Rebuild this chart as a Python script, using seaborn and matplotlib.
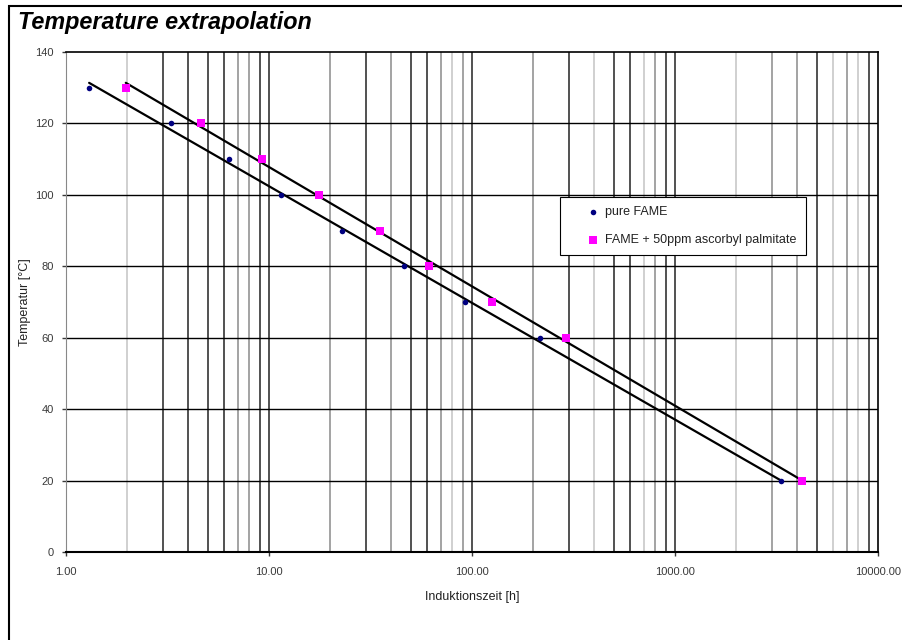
import numpy as np
import pandas as pd
import matplotlib
matplotlib.use("Agg")
import matplotlib.pyplot as plt
from matplotlib.patches import Rectangle
import seaborn as sns

sns.set_style("white")
plt.rcParams['font.family'] = ['Liberation Sans', 'DejaVu Sans']

# data
temps = [130, 120, 110, 100, 90, 80, 70, 60, 20]
time_pure = [1.30, 3.29, 6.35, 11.4, 23.0, 46.2, 92.2, 217, 3314]
time_ap = [1.97, 4.62, 9.23, 17.6, 35.2, 61.3, 126, 289, 4220]
label_pure = "pure FAME"
label_ap = "FAME + 50ppm ascorbyl palmitate"

df_pure = pd.DataFrame({"t": time_pure, "T": temps})
df_ap = pd.DataFrame({"t": time_ap, "T": temps})

fig = plt.figure(figsize=(9.02, 6.4), dpi=100)
ax = fig.add_axes([66 / 902, 88 / 640, 812 / 902, 500 / 640])
ax.set_xscale("log")
ax.set_xlim(1, 10000)
ax.set_ylim(0, 140)

# grid: the minor verticals come in different shades in the original
L, G, D = "#c4c4c4", "#8a8a8a", "#222222"
minor_shades = [
    [L, D, D, D, D, G, G, D],
    [G, D, G, D, D, G, L, G],
    [G, D, L, D, D, L, G, D],
    [L, G, G, D, L, G, L, D],
]
for i, shades in enumerate(minor_shades):
    base = 10 ** i
    for k, c in zip(range(2, 10), shades):
        ax.axvline(k * base, color=c, lw=1.1, zorder=0)
    if i > 0:
        ax.axvline(base, color=D, lw=1.1, zorder=0)
for yv in range(20, 140, 20):
    ax.axhline(yv, color="black", lw=1.0, zorder=0)

# trendlines (log fit, like excel)
sns.regplot(data=df_pure, x="t", y="T", logx=True, ci=None, scatter=False,
            color="black", line_kws={"lw": 1.6, "zorder": 2}, ax=ax)
sns.regplot(data=df_ap, x="t", y="T", logx=True, ci=None, scatter=False,
            color="black", line_kws={"lw": 1.6, "zorder": 2}, ax=ax)

sns.scatterplot(data=df_pure, x="t", y="T", marker="o", s=16, color="#000080",
                edgecolor="#000080", linewidth=0, label=label_pure, zorder=3, ax=ax)
sns.scatterplot(data=df_ap, x="t", y="T", marker="s", s=30, color="#ff00ff",
                edgecolor="#ff00ff", linewidth=0, label=label_ap, zorder=3, ax=ax)

ax.set_xticks([1, 10, 100, 1000, 10000])
ax.set_xticklabels(["1.00", "10.00", "100.00", "1000.00", "10000.00"])
ax.xaxis.set_minor_locator(matplotlib.ticker.NullLocator())
ax.set_yticks(range(0, 141, 20))
ax.tick_params(axis="both", labelsize=8, colors="#3a3a3a", length=3, width=1,
               direction="out", bottom=True, left=True)
ax.tick_params(axis="x", pad=8)
ax.tick_params(axis="y", pad=6)

for side in ["top", "right"]:
    ax.spines[side].set_color("black")
    ax.spines[side].set_linewidth(1.2)
ax.spines["left"].set_color("#888888")
ax.spines["bottom"].set_color("black")
ax.spines["bottom"].set_linewidth(1.5)

ax.set_xlabel("Induktionszeit [h]", fontsize=9, labelpad=10, color="#222222")
ax.set_ylabel("Temperatur [°C]", fontsize=9, labelpad=2.5, color="#222222")

leg = ax.legend(loc="upper left", bbox_to_anchor=(560 / 902, 1 - 197 / 640),
                bbox_transform=fig.transFigure, fontsize=9, frameon=True,
                fancybox=False, framealpha=1, edgecolor="black",
                borderpad=0.74, labelspacing=1.25, handletextpad=-0.94,
                borderaxespad=0, markerscale=1.0, handlelength=3.8)
leg.get_frame().set_linewidth(0.8)
for t in leg.get_texts():
    t.set_color("#222222")

fig.text(18 / 902, 1 - 22 / 640, "Temperature extrapolation", fontsize=16.8,
         fontweight="bold", fontstyle="italic", va="center", ha="left",
         color="black")

fig.patches.append(Rectangle((9 / 902, -0.1), 1.0, 1.1 - 6 / 640, transform=fig.transFigure,
                             fill=False, edgecolor="black", lw=1.5))

fig.savefig("out.png", dpi=100)
